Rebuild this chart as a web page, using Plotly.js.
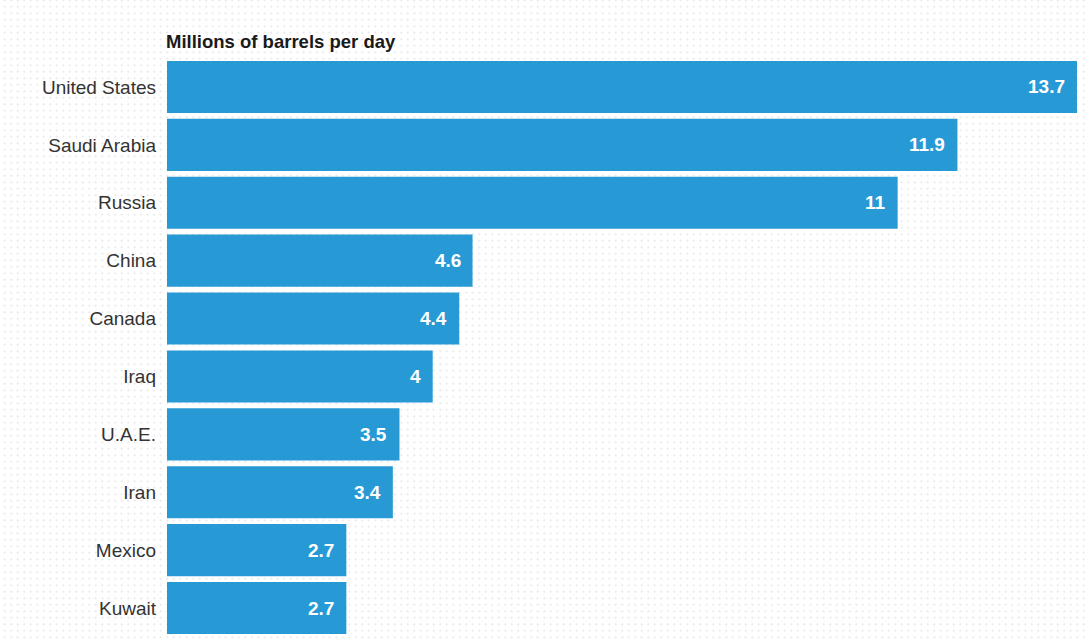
<!DOCTYPE html>
<html>
<head>
<meta charset="utf-8">
<script src="https://cdn.plot.ly/plotly-3.0.1.min.js"></script>
<style>
html,body{margin:0;padding:0;background:#fff;}
#chart{width:1087px;height:641px;
  background-color:#fff;
  background-image:radial-gradient(circle, #e4e4e4 0.8px, rgba(255,255,255,0) 1.1px);
  background-size:6.5px 6.5px;
  background-position:8px 10px;}
</style>
</head>
<body>
<div id="chart"></div>
<script>
const countries = ["United States","Saudi Arabia","Russia","China","Canada","Iraq","U.A.E.","Iran","Mexico","Kuwait"];
const values = [13.7, 11.9, 11, 4.6, 4.4, 4, 3.5, 3.4, 2.7, 2.7];
const labels = ["13.7","11.9","11","4.6","4.4","4","3.5","3.4","2.7","2.7"];
const chartTitle = "Millions of barrels per day";

const barColor = "#279AD6";

const trace = {
  type: "bar",
  orientation: "h",
  y: countries,
  x: values,
  marker: {color: barColor},
  hoverinfo: "none"
};

const annotations = countries.map((c, i) => ({
  x: values[i], y: c, xref: "x", yref: "y",
  text: labels[i], showarrow: false,
  xanchor: "right", xshift: -10,
  font: {family: "Liberation Sans, Arial, sans-serif", size: 19, color: "#ffffff", weight: "bold"}
}));
annotations.push({
  x: 0, y: 1, xref: "paper", yref: "paper",
  xanchor: "left", yanchor: "bottom", yshift: 4, xshift: -3,
  text: "<b>" + chartTitle + "</b>", showarrow: false,
  font: {family: "Liberation Sans, Arial, sans-serif", size: 18.5, color: "#1a1a1a"}
});

const layout = {
  width: 1087, height: 641,
  margin: {l: 167, r: 10, t: 58, b: 4},
  paper_bgcolor: "rgba(0,0,0,0)",
  plot_bgcolor: "rgba(0,0,0,0)",
  bargap: 0.1,
  showlegend: false,
  xaxis: {range: [0, 13.7], showgrid: false, zeroline: false, showticklabels: false, fixedrange: true},
  yaxis: {autorange: "reversed", showgrid: false, zeroline: false, ticks: "", ticklabelstandoff: 10,
          tickfont: {family: "Liberation Sans, Arial, sans-serif", size: 19, color: "#333333"}},
  annotations: annotations
};

Plotly.newPlot("chart", [trace], layout, {displayModeBar: false, staticPlot: true});
</script>
</body>
</html>
